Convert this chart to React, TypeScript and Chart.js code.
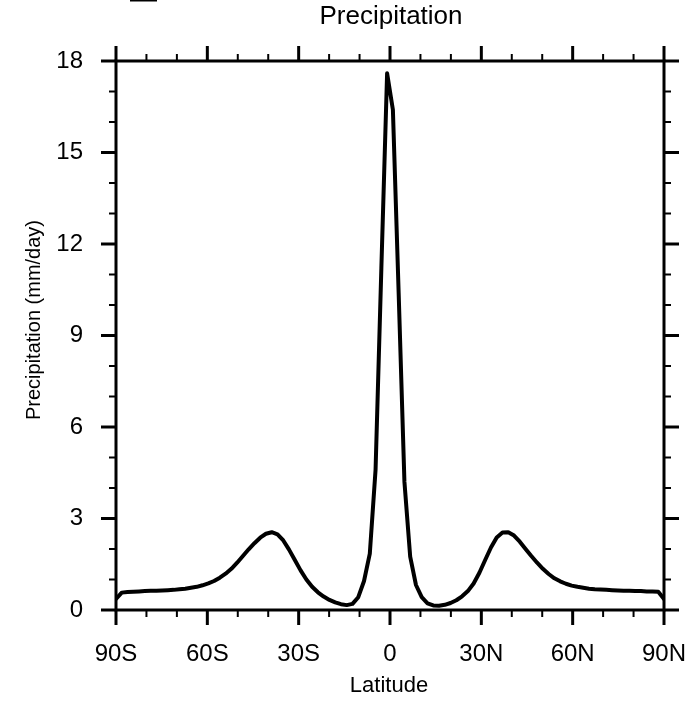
import React, { useEffect, useRef } from 'react';
import { Chart, registerables } from 'chart.js';

Chart.register(...registerables);

// Gaussian-like latitude grid (degrees)
const latitudes = [
  -90.0, -88.11, -86.21, -84.32, -82.42, -80.53, -78.63, -76.74, -74.84, -72.95,
  -71.05, -69.16, -67.26, -65.37, -63.47, -61.58, -59.68, -57.79, -55.89, -54.0,
  -52.11, -50.21, -48.32, -46.42, -44.53, -42.63, -40.74, -38.84, -36.95, -35.05,
  -33.16, -31.26, -29.37, -27.47, -25.58, -23.68, -21.79, -19.89, -18.0, -16.11,
  -14.21, -12.32, -10.42, -8.53, -6.63, -4.74, -2.84, -0.95,
  0.95, 2.84, 4.74, 6.63, 8.53, 10.42, 12.32, 14.21, 16.11, 18.0,
  19.89, 21.79, 23.68, 25.58, 27.47, 29.37, 31.26, 33.16, 35.05, 36.95,
  38.84, 40.74, 42.63, 44.53, 46.42, 48.32, 50.21, 52.11, 54.0, 55.89,
  57.79, 59.68, 61.58, 63.47, 65.37, 67.26, 69.16, 71.05, 72.95, 74.84,
  76.74, 78.63, 80.53, 82.42, 84.32, 86.21, 88.11, 90.0,
];

// Zonal mean precipitation (mm/day)
const precipitation = [
  0.36, 0.57, 0.59, 0.6, 0.61, 0.62, 0.63, 0.63, 0.64, 0.65,
  0.66, 0.68, 0.7, 0.73, 0.76, 0.81, 0.87, 0.95, 1.06, 1.19,
  1.35, 1.55, 1.77, 1.99, 2.19, 2.37, 2.5, 2.55, 2.48, 2.28,
  1.98, 1.64, 1.3, 1.0, 0.76, 0.58, 0.44, 0.33, 0.25, 0.19,
  0.16, 0.2, 0.42, 0.95, 1.85, 4.6, 11.2, 17.6,
  16.4, 10.4, 4.2, 1.75, 0.82, 0.42, 0.22, 0.15, 0.14, 0.17,
  0.23, 0.32, 0.45, 0.62, 0.87, 1.22, 1.64, 2.05, 2.38, 2.54,
  2.55, 2.44, 2.24, 2.0, 1.77, 1.55, 1.35, 1.18, 1.04, 0.94,
  0.86, 0.8, 0.76, 0.73, 0.7, 0.68, 0.67, 0.66, 0.65, 0.64,
  0.63, 0.63, 0.62, 0.62, 0.61, 0.61, 0.6, 0.36,
];

const xTickValues = [-90, -60, -30, 0, 30, 60, 90];
const xTickLabels = ['90S', '60S', '30S', '0', '30N', '60N', '90N'];
const xMinorValues = [-80, -70, -50, -40, -20, -10, 10, 20, 40, 50, 70, 80];
const yTickValues = [0, 3, 6, 9, 12, 15, 18];
const yTickLabels = ['0', '3', '6', '9', '12', '15', '18'];
const yMinorValues = [1, 2, 4, 5, 7, 8, 10, 11, 13, 14, 16, 17];

const TITLE = 'Precipitation';
const X_TITLE = 'Latitude';
const Y_TITLE = 'Precipitation (mm/day)';
const FONT = '"Liberation Sans", Arial, Helvetica, sans-serif';

const MAJOR_LEN = 15;
const MINOR_LEN = 7;

const framePlugin = {
  id: 'nclFrame',
  afterDatasetsDraw(chart: any) {
    const { ctx, chartArea, scales } = chart;
    const { left, right, top, bottom } = chartArea;
    const x = scales.x;
    const y = scales.y;
    ctx.save();
    ctx.strokeStyle = '#000';
    ctx.lineCap = 'butt';
    const seg = (x1: number, y1: number, x2: number, y2: number) => {
      ctx.beginPath();
      ctx.moveTo(x1, y1);
      ctx.lineTo(x2, y2);
      ctx.stroke();
    };
    // minor ticks
    ctx.lineWidth = 2;
    xMinorValues.forEach((v) => {
      const px = x.getPixelForValue(v);
      seg(px, bottom, px, bottom + MINOR_LEN);
      seg(px, top, px, top - MINOR_LEN);
    });
    yMinorValues.forEach((v) => {
      const py = y.getPixelForValue(v);
      seg(left, py, left - MINOR_LEN, py);
      seg(right, py, right + MINOR_LEN, py);
    });
    // major ticks
    ctx.lineWidth = 3;
    xTickValues.forEach((v) => {
      const px = x.getPixelForValue(v);
      seg(px, bottom, px, bottom + MAJOR_LEN);
      seg(px, top, px, top - MAJOR_LEN);
    });
    yTickValues.forEach((v) => {
      const py = y.getPixelForValue(v);
      seg(left, py, left - MAJOR_LEN, py);
      seg(right, py, right + MAJOR_LEN, py);
    });
    // frame
    ctx.lineWidth = 3;
    ctx.strokeRect(left, top, right - left, bottom - top);
    ctx.restore();
  },
  afterDraw(chart: any) {
    const { ctx, chartArea } = chart;
    const cx = (chartArea.left + chartArea.right) / 2;
    ctx.save();
    ctx.fillStyle = '#000';
    ctx.textAlign = 'center';
    ctx.textBaseline = 'middle';
    ctx.font = `26px ${FONT}`;
    ctx.fillText(TITLE, cx + 1, 17);
    ctx.font = `22px ${FONT}`;
    ctx.fillText(X_TITLE, cx - 1, 686);
    ctx.translate(34.5, 320);
    ctx.rotate(-Math.PI / 2);
    ctx.font = `20px ${FONT}`;
    ctx.fillText(Y_TITLE, 0, 0);
    ctx.restore();
    // small mark at the top-left edge of the page
    ctx.save();
    ctx.fillStyle = '#000';
    ctx.fillRect(130, 0, 27, 1.5);
    ctx.restore();
  },
};

export default function App() {
  const canvasRef = useRef<HTMLCanvasElement | null>(null);

  useEffect(() => {
    const canvas = canvasRef.current;
    if (!canvas) return;
    const chart = new Chart(canvas, {
      type: 'line',
      data: {
        datasets: [
          {
            label: 'Precipitation',
            data: latitudes.map((lat, i) => ({ x: lat, y: precipitation[i] })),
            borderColor: '#000',
            borderWidth: 4,
            borderJoinStyle: 'round',
            borderCapStyle: 'round',
            pointRadius: 0,
            tension: 0,
            fill: false,
          },
        ],
      },
      options: {
        animation: false,
        responsive: false,
        devicePixelRatio: 1,
        layout: { padding: { top: 61, right: 26, left: 0, bottom: 0 } },
        plugins: {
          legend: { display: false },
          title: { display: false },
          tooltip: { enabled: false },
        },
        scales: {
          x: {
            type: 'linear',
            min: -90,
            max: 90,
            afterBuildTicks: (s: any) => {
              s.ticks = xTickValues.map((v) => ({ value: v }));
            },
            afterFit: (s: any) => {
              s.height = 91;
              s.paddingLeft = 0;
              s.paddingRight = 0;
            },
            ticks: {
              autoSkip: false,
              maxRotation: 0,
              minRotation: 0,
              padding: 30,
              color: '#000',
              font: { family: FONT, size: 24 },
              callback: (_v: any, i: number) => xTickLabels[i],
            },
            grid: { display: false, drawTicks: false },
            border: { display: false },
          },
          y: {
            type: 'linear',
            min: 0,
            max: 18,
            afterBuildTicks: (s: any) => {
              s.ticks = yTickValues.map((v) => ({ value: v }));
            },
            afterFit: (s: any) => {
              s.width = 116;
              s.paddingTop = 0;
              s.paddingBottom = 0;
            },
            ticks: {
              autoSkip: false,
              padding: 33,
              color: '#000',
              font: { family: FONT, size: 24 },
              callback: (_v: any, i: number) => yTickLabels[i],
            },
            grid: { display: false, drawTicks: false },
            border: { display: false },
          },
        },
      },
      plugins: [framePlugin],
    } as any);
    return () => chart.destroy();
  }, []);

  return (
    <div style={{ position: 'absolute', left: 0, top: 0, width: 690, height: 701, background: '#fff' }}>
      <canvas ref={canvasRef} width={690} height={701} style={{ width: 690, height: 701, display: 'block' }} />
    </div>
  );
}
